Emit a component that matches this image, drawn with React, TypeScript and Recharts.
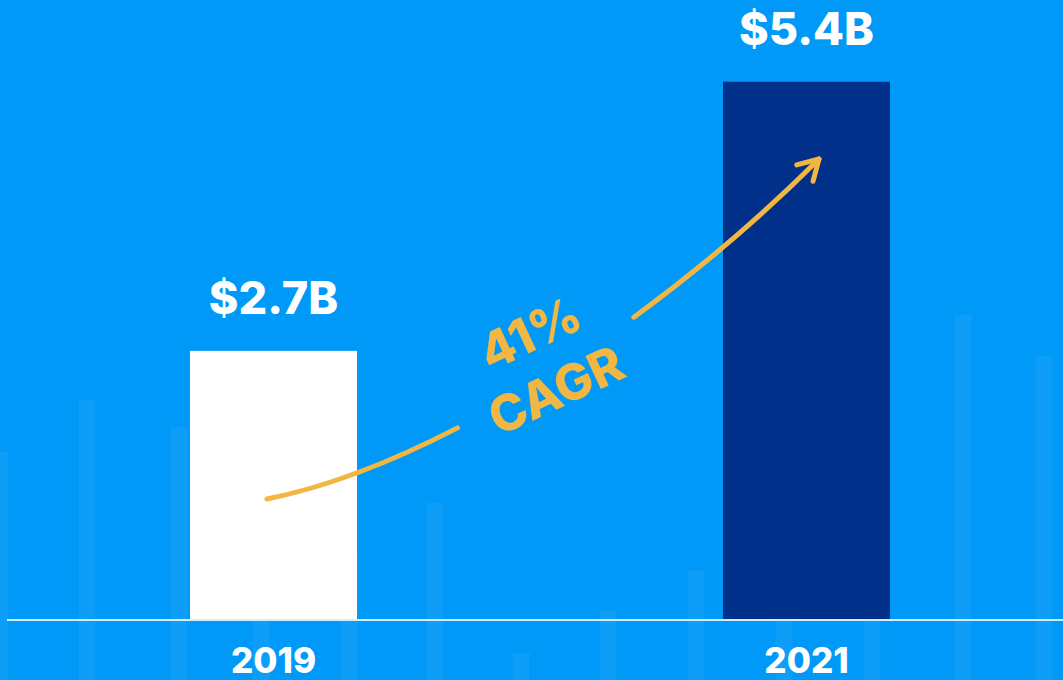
import { Bar, BarChart, LabelList, XAxis, YAxis } from 'recharts';

const years = ['2019', '2021'];
const revenue = [2.7, 5.4];
const valueLabels = ['$2.7B', '$5.4B'];
const barColors = ['#ffffff', '#003089'];

// faint decorative columns behind the chart (x centre, height from bottom)
const bgX = [0, 87, 179, 261, 349, 435, 521, 608, 696, 784, 872, 963, 1044];
const bgHeights = [228, 280, 253, 180, 130, 177, 27, 70, 110, 200, 150, 365, 324];

const cagrLines = ['41%', 'CAGR'];

const W = 1063;
const H = 680;
const BG = '#0099f8';
const GOLD = '#f2b642';
const FONT = 'Inter, "Open Sans", sans-serif';

const mainData = years.map((y, i) => ({
    year: y,
    value: revenue[i],
    label: valueLabels[i],
    color: barColors[i],
}));
const bgData = bgX.map((x, i) => ({ x, h: bgHeights[i] }));

type Pt = [number, number];
const lerp = (a: Pt, b: Pt, t: number): Pt => [
    a[0] + (b[0] - a[0]) * t,
    a[1] + (b[1] - a[1]) * t,
];
const split = (p: Pt[], t: number) => {
    const [p0, p1, p2, p3] = p;
    const p01 = lerp(p0, p1, t);
    const p12 = lerp(p1, p2, t);
    const p23 = lerp(p2, p3, t);
    const p012 = lerp(p01, p12, t);
    const p123 = lerp(p12, p23, t);
    const m = lerp(p012, p123, t);
    return { left: [p0, p01, p012, m], right: [m, p123, p23, p3] };
};
const toPath = (p: Pt[]) =>
    `M${p[0][0]},${p[0][1]} C${p[1][0]},${p[1][1]} ${p[2][0]},${p[2][1]} ${p[3][0]},${p[3][1]}`;

const GrowthArrow = () => {
    const curve: Pt[] = [
        [267, 499],
        [447, 463],
        [668, 310],
        [819, 159],
    ];
    const first = split(curve, 0.335).left;
    const second = split(curve, 0.64).right;
    const [tx, ty] = curve[3];
    const dx = curve[3][0] - curve[2][0];
    const dy = curve[3][1] - curve[2][1];
    const back = Math.atan2(-dy, -dx);
    const arm = 23;
    const a1 = back + (30 * Math.PI) / 180;
    const a2 = back - (30 * Math.PI) / 180;
    return (
        <svg
            width={W}
            height={H}
            style={{ position: 'absolute', left: 0, top: 0, pointerEvents: 'none' }}
        >
            <g
                fill="none"
                stroke={GOLD}
                strokeWidth={5}
                strokeLinecap="round"
                strokeLinejoin="round"
            >
                <path d={toPath(first)} />
                <path d={toPath(second)} />
                <path
                    d={`M${tx + arm * Math.cos(a1)},${ty + arm * Math.sin(a1)} L${tx},${ty} L${
                        tx + arm * Math.cos(a2)
                    },${ty + arm * Math.sin(a2)}`}
                />
            </g>
            <g
                fill={GOLD}
                fontFamily={FONT}
                fontWeight={800}
                fontSize={50}
                textAnchor="middle"
                dominantBaseline="central"
            >
                <text x={530} y={333} transform="rotate(-25 530 333)">
                    {cagrLines[0]}
                </text>
                <text x={556} y={390} transform="rotate(-25 556 390)">
                    {cagrLines[1]}
                </text>
            </g>
        </svg>
    );
};

const YearTick = (props: any) => {
    const { x, y, payload } = props;
    return (
        <text
            x={x}
            y={y + 53}
            textAnchor="middle"
            fill="#ffffff"
            fontFamily={FONT}
            fontWeight={800}
            fontSize={35}
        >
            {payload.value}
        </text>
    );
};

export default function App() {
    return (
        <div
            style={{
                position: 'absolute',
                left: 0,
                top: 0,
                width: W,
                height: H,
                overflow: 'hidden',
                background: BG,
            }}
        >
            <div style={{ position: 'absolute', left: 0, top: 0 }}>
                <BarChart
                    width={W}
                    height={H}
                    data={bgData}
                    margin={{ top: 0, right: 0, bottom: 0, left: 0 }}
                >
                    <XAxis dataKey="x" type="number" domain={[0, W]} hide />
                    <YAxis type="number" domain={[0, H]} hide />
                    <Bar
                        dataKey="h"
                        barSize={17}
                        fill="#ffffff"
                        fillOpacity={0.055}
                        isAnimationActive={false}
                    />
                </BarChart>
            </div>
            <div style={{ position: 'absolute', left: 0, top: 0 }}>
                <BarChart
                    width={W + 10}
                    height={H}
                    data={mainData}
                    margin={{ top: 0, right: 0, bottom: 0, left: 7 }}
                >
                    <XAxis
                        dataKey="year"
                        height={60}
                        axisLine={{ stroke: '#cfeeff', strokeWidth: 2 }}
                        tickLine={false}
                        tickSize={0}
                        tickMargin={0}
                        tick={<YearTick />}
                        interval={0}
                    />
                    <YAxis type="number" domain={[0, 6.22]} hide />
                    <Bar
                        dataKey="value"
                        barSize={167}
                        isAnimationActive={false}
                        shape={(p: any) => (
                            <rect
                                x={p.x}
                                y={p.y}
                                width={p.width}
                                height={p.height}
                                fill={p.payload.color}
                            />
                        )}
                    >
                        <LabelList
                            dataKey="label"
                            position="top"
                            offset={37}
                            fill="#ffffff"
                            fontFamily={FONT}
                            fontWeight={800}
                            fontSize={45}
                        />
                    </Bar>
                </BarChart>
            </div>
            <GrowthArrow />
        </div>
    );
}
